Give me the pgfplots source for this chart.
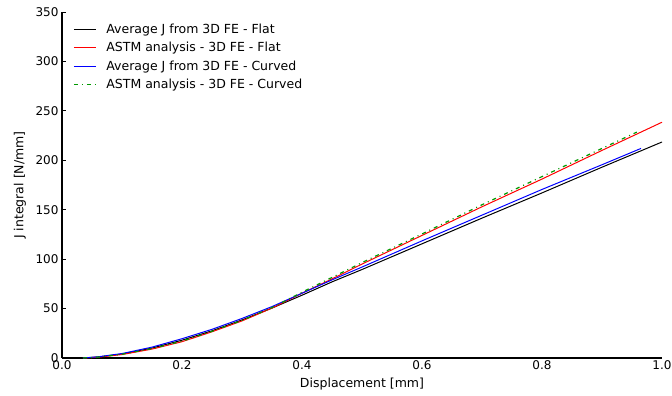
\documentclass[border=0pt]{standalone}
\usepackage{fontspec}
\setmainfont{DejaVu Sans}
\usepackage{pgfplots}
\pgfplotsset{compat=1.18}
\begin{document}
\begin{tikzpicture}
\begin{axis}[
  scale only axis, width=600pt, height=346pt,
  xmin=0, xmax=1.0, ymin=0, ymax=350,
  axis x line*=bottom, axis y line*=left,
  axis line style={line width=1.2pt, -},
  xtick={0,0.2,0.4,0.6,0.8,1.0},
  ytick={0,50,100,150,200,250,300,350},
  xticklabels={0.0,0.2,0.4,0.6,0.8,1.0},
  x tick style={draw=none},
  y tick style={black, line width=0.8pt},
  tick align=inside, major tick length=4pt,
  tick label style={font=\fontsize{12}{14}\selectfont},
  xticklabel style={yshift=1pt},
  /pgf/number format/assume math mode=true,
  xlabel={Displacement [mm]}, ylabel={J integral [N/mm]},
  label style={font=\fontsize{12.5}{14}\selectfont},
  xlabel style={at={(axis description cs:0.5,0)}, anchor=center, yshift=-26pt, font=\fontsize{12.5}{14}\selectfont},
  ylabel style={at={(axis description cs:-0.07,0.5)}, anchor=center, font=\fontsize{12.5}{14}\selectfont},
  legend style={draw=none, fill=none, at={(0,1)}, anchor=north west, xshift=8pt, yshift=-7.5pt,
    font=\fontsize{12.5}{14}\selectfont, row sep=3.5pt, column sep=8pt},
  legend cell align=left,
  legend image code/.code={\draw[#1] (0pt,0pt) -- (22pt,0pt);},
  clip=false,
]
\addplot[color=black, draw=black, line width=1pt] coordinates {
(0.035,0) (0.06,1) (0.1,4) (0.15,10) (0.2,18) (0.25,27.5) (0.3,38.5) (0.35,50.5)
(0.4,63.5) (0.45,77) (0.5,89.5) (0.6,115.5) (0.7,141.5) (0.8,167) (0.9,193) (1.0,218.5)};
\addlegendentry{Average J from 3D FE - Flat}
\addplot[color=red, draw=red, line width=1pt] coordinates {
(0.035,0) (0.06,0.8) (0.1,3.5) (0.15,9) (0.2,16.5) (0.25,26.5) (0.3,37.5) (0.35,50.5)
(0.4,65.5) (0.45,80) (0.5,95) (0.6,124) (0.7,153) (0.8,181) (0.9,210) (1.0,238.5)};
\addlegendentry{ASTM analysis - 3D FE - Flat}
\addplot[color=blue, draw=blue, line width=1pt] coordinates {
(0.035,0) (0.06,1.2) (0.1,4.5) (0.15,11) (0.2,19.5) (0.25,29) (0.3,40) (0.35,52)
(0.4,65.5) (0.45,79) (0.5,92) (0.6,118.5) (0.7,144.5) (0.8,170.5) (0.9,195.5) (0.965,212)};
\addlegendentry{Average J from 3D FE - Curved}
\addplot[color=green!60!black, draw=green!60!black, line width=1.2pt, dash pattern=on 4pt off 4pt on 1pt off 4pt] coordinates {
(0.035,0) (0.06,0.9) (0.1,3.8) (0.15,9.5) (0.2,17) (0.25,27) (0.3,38) (0.35,51)
(0.4,66.5) (0.45,81.5) (0.5,96.5) (0.6,125.5) (0.7,155) (0.8,183.5) (0.9,212) (0.958,228.5)};
\addlegendentry{ASTM analysis - 3D FE - Curved}
\end{axis}
\pgfresetboundingbox
\useasboundingbox (-62pt,-38pt) rectangle (610pt,358pt);
\end{tikzpicture}
\end{document}
